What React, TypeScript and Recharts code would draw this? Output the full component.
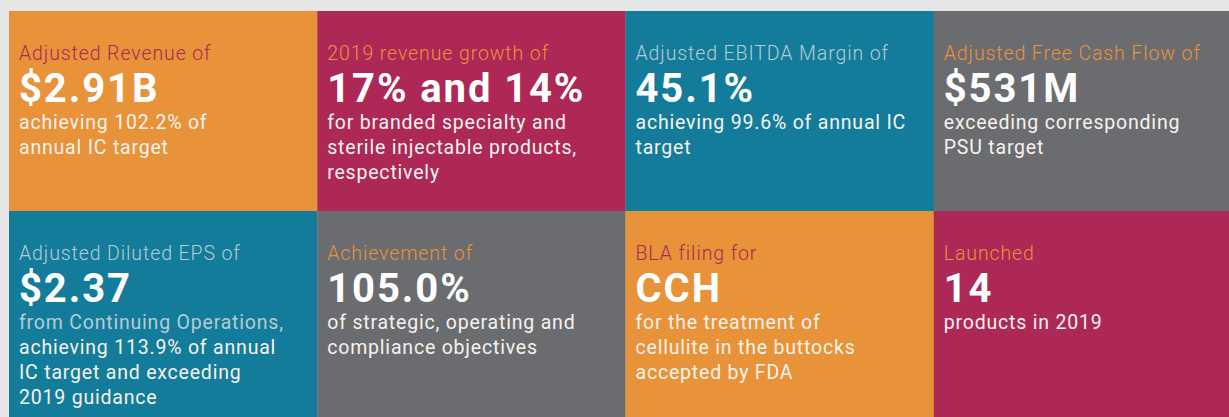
import { BarChart, Bar, XAxis, YAxis } from "recharts";

// one column of the grid per category, two stacked tiles per column
const columns = ["revenue", "growth", "ebitda", "eps"];
const topTiles = [1, 1, 1, 1];
const bottomTiles = [1, 1, 1, 1];

const topLabels = ["Adjusted Revenue of", "2019 revenue growth of", "Adjusted EBITDA Margin of", "Adjusted Free Cash Flow of"];
const topFigures = ["$2.91B", "17% and 14%", "45.1%", "$531M"];
const topNotes = [
  ["achieving 102.2% of", "annual IC target"],
  ["for branded specialty and", "sterile injectable products,", "respectively"],
  ["achieving 99.6% of annual IC", "target"],
  ["exceeding corresponding", "PSU target"],
];

const bottomLabels = ["Adjusted Diluted EPS of", "Achievement of", "BLA filing for", "Launched"];
const bottomFigures = ["$2.37", "105.0%", "CCH", "14"];
const bottomNotes = [
  ["from Continuing Operations,", "achieving 113.9% of annual", "IC target and exceeding", "2019 guidance"],
  ["of strategic, operating and", "compliance objectives"],
  ["for the treatment of", "cellulite in the buttocks", "accepted by FDA"],
  ["products in 2019"],
];

const ORANGE = "#E8923A";
const MAGENTA = "#AD2856";
const TEAL = "#137C9A";
const GRAY = "#6B6C70";
const PALE = "#B7CBD4";
const WHITE = "#F6F2EC";

const topFill = [ORANGE, MAGENTA, TEAL, GRAY];
const topAccent = [MAGENTA, ORANGE, PALE, ORANGE];
const bottomFill = [TEAL, GRAY, ORANGE, MAGENTA];
const bottomAccent = [PALE, ORANGE, MAGENTA, ORANGE];

const data = columns.map((c, i) => ({ col: c, top: topTiles[i], bottom: bottomTiles[i] }));

const FONT = "Roboto, sans-serif";

function Tile(props: any) {
  const { x, y, width, height, index, row } = props;
  const isTop = row === "top";
  const fill = (isTop ? topFill : bottomFill)[index];
  const accent = (isTop ? topAccent : bottomAccent)[index];
  const label = (isTop ? topLabels : bottomLabels)[index];
  const figure = (isTop ? topFigures : bottomFigures)[index];
  const notes = (isTop ? topNotes : bottomNotes)[index];
  const tx = x + 10;
  // EPS tile: first note line shares the label colour
  const mutedFirst = !isTop && index === 0;
  return (
    <g>
      <rect x={x} y={y} width={width + 0.5} height={isTop ? height : height + 12} fill={fill} />
      <text x={tx} y={y + 49} fill={accent} fontFamily={FONT} fontSize={19.5} fontWeight={300} letterSpacing={0.9}>
        {label}
      </text>
      <text x={tx} y={y + 90.5} fill="#ffffff" fontFamily={FONT} fontSize={40} fontWeight={700} letterSpacing={1.9}>
        {figure}
      </text>
      {notes.map((n: string, k: number) => (
        <text
          key={k}
          x={tx}
          y={y + 117.5 + k * 25}
          fill={mutedFirst && k === 0 ? PALE : WHITE}
          fontFamily={FONT}
          fontSize={19.5}
          fontWeight={400}
          letterSpacing={0.8}
        >
          {n}
        </text>
      ))}
    </g>
  );
}

export default function App() {
  return (
    <div style={{ position: "fixed", inset: 0, background: "#E6E6E6" }}>
      <div style={{ position: "fixed", left: 9, top: 11, width: 1220, height: 406, overflow: "hidden" }}>
        <BarChart
          width={1233}
          height={406}
          data={data}
          margin={{ top: 0, right: 0, bottom: 6, left: 0 }}
          barCategoryGap={0}
          barGap={0}
        >
          <XAxis dataKey="col" hide />
          <YAxis hide domain={[0, 2]} />
          <Bar
            dataKey="bottom"
            stackId="grid"
            isAnimationActive={false}
            shape={(p: any) => <Tile {...p} row="bottom" />}
          />
          <Bar
            dataKey="top"
            stackId="grid"
            isAnimationActive={false}
            shape={(p: any) => <Tile {...p} row="top" />}
          />
        </BarChart>
      </div>
    </div>
  );
}
